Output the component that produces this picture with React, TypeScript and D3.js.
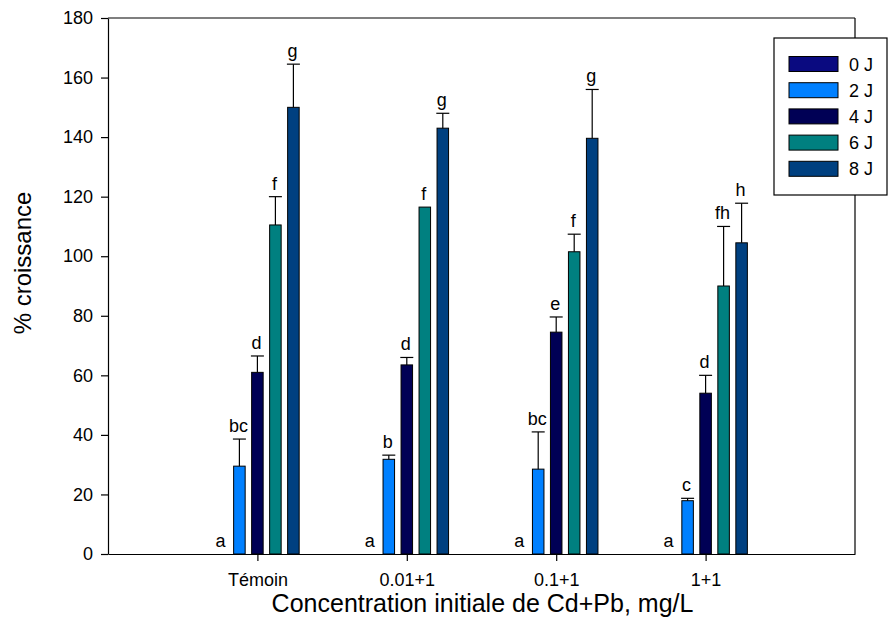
import { useEffect, useRef } from "react";
import * as d3 from "d3";

const categories = ["Témoin", "0.01+1", "0.1+1", "1+1"];
const series = ["0 J", "2 J", "4 J", "6 J", "8 J"];
const colors = ["#0a0a80", "#0080ff", "#000055", "#008080", "#004080"];

// mean values per category, one entry per series
const means = [
  [0, 29.5, 61, 110.5, 150],
  [0, 31.8, 63.5, 116.5, 143],
  [0, 28.5, 74.5, 101.5, 139.6],
  [0, 17.9, 54, 90, 104.5],
];
// top of the error bar (mean + error)
const errTops = [
  [0, 38.6, 66.5, 120, 164.5],
  [0, 33.2, 66, 116.5, 148],
  [0, 41, 79.6, 107.4, 156],
  [0, 18.7, 60, 110, 117.8],
];
const letters = [
  ["a", "bc", "d", "f", "g"],
  ["a", "b", "d", "f", "g"],
  ["a", "bc", "e", "f", "g"],
  ["a", "c", "d", "fh", "h"],
];
const yTicks = [0, 20, 40, 60, 80, 100, 120, 140, 160, 180];

export default function App() {
  const ref = useRef<SVGSVGElement>(null);

  useEffect(() => {
    const width = 891;
    const height = 643;
    const left = 108, right = 855, top = 18, bottom = 554;
    const font = "Arial, 'Liberation Sans', sans-serif";

    const svg = d3.select(ref.current)
      .attr("width", width)
      .attr("height", height);
    svg.selectAll("*").remove();

    const x = d3.scaleLinear().domain([0, 5]).range([left, right]);
    const inner = d3.scaleBand<string>()
      .domain(series)
      .range([-45, 45])
      .paddingInner(0.36)
      .paddingOuter(0.18);
    const y = d3.scaleLinear().domain([0, 180]).range([bottom, top]);

    // frame
    svg.append("line")
      .attr("x1", left).attr("x2", right).attr("y1", top).attr("y2", top)
      .attr("stroke", "#000").attr("stroke-width", 1.2);
    svg.append("line")
      .attr("x1", right).attr("x2", right).attr("y1", top).attr("y2", bottom)
      .attr("stroke", "#000").attr("stroke-width", 1.2);

    // bars
    categories.forEach((cat, i) => {
      const cx = x(i + 1);
      const g = svg.append("g");
      series.forEach((s, k) => {
        const bx = cx + (inner(s) as number);
        const bw = inner.bandwidth();
        const v = means[i][k];
        if (v > 0) {
          g.append("rect")
            .attr("x", bx).attr("y", y(v))
            .attr("width", bw).attr("height", y(0) - y(v))
            .attr("fill", colors[k])
            .attr("stroke", "#000").attr("stroke-width", 1);
        }
        const e = errTops[i][k];
        if (e > v) {
          const mx = bx + bw / 2;
          g.append("line")
            .attr("x1", mx).attr("x2", mx).attr("y1", y(v)).attr("y2", y(e))
            .attr("stroke", "#000").attr("stroke-width", 1.2);
          g.append("line")
            .attr("x1", mx - 6.5).attr("x2", mx + 6.5).attr("y1", y(e)).attr("y2", y(e))
            .attr("stroke", "#000").attr("stroke-width", 1.2);
        }
        g.append("text")
          .attr("x", bx + bw / 2 - 1)
          .attr("y", y(Math.max(e, v)) - 7)
          .attr("text-anchor", "middle")
          .attr("font-family", font)
          .attr("font-size", 18)
          .text(letters[i][k]);
      });
    });

    // y axis
    const yAxis = svg.append("g")
      .attr("transform", `translate(${left},0)`)
      .call(d3.axisLeft(y).tickValues(yTicks).tickSize(7).tickPadding(8).tickSizeOuter(0));
    yAxis.select(".domain").attr("stroke-width", 1.2);
    yAxis.selectAll("line").attr("stroke-width", 1.2);
    yAxis.selectAll("text").attr("font-family", font).attr("font-size", 18).attr("fill", "#000");

    // x axis
    const xAxis = svg.append("g")
      .attr("transform", `translate(0,${bottom})`)
      .call(d3.axisBottom(x)
        .tickValues([1, 2, 3, 4])
        .tickFormat((d) => categories[(d as number) - 1])
        .tickSize(7).tickPadding(12).tickSizeOuter(0));
    xAxis.select(".domain").attr("stroke-width", 1.2);
    xAxis.selectAll("line").attr("stroke-width", 1.2);
    xAxis.selectAll("text").attr("font-family", font).attr("font-size", 18).attr("fill", "#000");

    // axis titles
    svg.append("text")
      .attr("x", (left + right) / 2 + 1)
      .attr("y", 612)
      .attr("text-anchor", "middle")
      .attr("font-family", font)
      .attr("font-size", 25)
      .text("Concentration initiale de Cd+Pb, mg/L");
    svg.append("text")
      .attr("transform", `translate(31,263) rotate(-90)`)
      .attr("text-anchor", "middle")
      .attr("font-family", font)
      .attr("font-size", 24)
      .text("% croissance");

    // legend
    const lg = svg.append("g");
    lg.append("rect")
      .attr("x", 774).attr("y", 38).attr("width", 113).attr("height", 157)
      .attr("fill", "#fff").attr("stroke", "#000").attr("stroke-width", 1.2);
    series.forEach((s, k) => {
      const cy = 64 + k * 26.2;
      lg.append("rect")
        .attr("x", 789).attr("y", cy - 7.5).attr("width", 49).attr("height", 15)
        .attr("fill", colors[k]).attr("stroke", "#000").attr("stroke-width", 1);
      lg.append("text")
        .attr("x", 849).attr("y", cy + 6.5)
        .attr("font-family", font).attr("font-size", 18)
        .text(s);
    });
  }, []);

  return <svg ref={ref} style={{ position: "absolute", left: 0, top: 0 }}></svg>;
}
